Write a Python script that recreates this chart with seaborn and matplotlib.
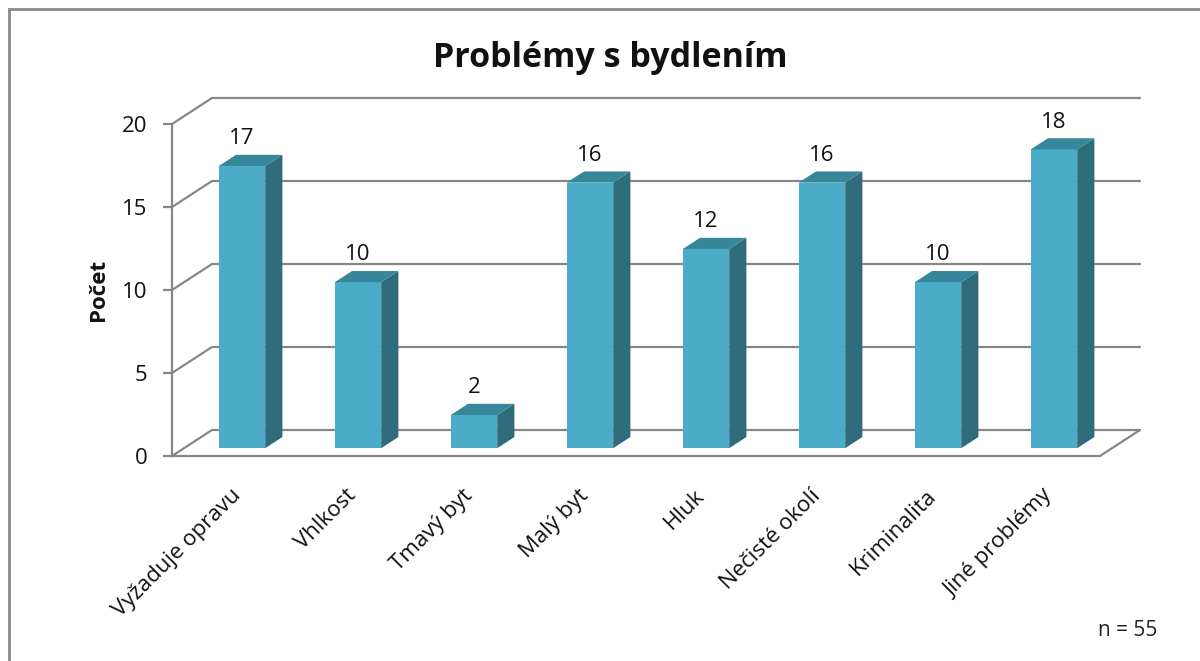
import matplotlib
matplotlib.use("Agg")
import matplotlib.pyplot as plt
import matplotlib.transforms as mtransforms
from matplotlib.patches import Polygon, Rectangle
import seaborn as sns
import pandas as pd

# ---- data ----
categories = ["Vyžaduje opravu", "Vhlkost", "Tmavý byt", "Malý byt", "Hluk",
              "Nečisté okolí", "Kriminalita", "Jiné problémy"]
values = [17, 10, 2, 16, 12, 16, 10, 18]
y_ticks = [0, 5, 10, 15, 20]
title = "Problémy s bydlením"
y_label = "Počet"
note = "n = 55"

df = pd.DataFrame({"kategorie": categories, "pocet": values})

# ---- style ----
sns.set_style("white")
plt.rcParams["font.family"] = ["Open Sans", "DejaVu Sans"]

FRONT = "#4AACC6"
SIDE = "#2F6B7B"
TOP = "#36879A"
GRID = "#878787"
W, H = 1200, 661

fig = plt.figure(figsize=(12, 6.61), dpi=100)
ax = fig.add_axes([172 / W, (H - 456) / H, (1100 - 172) / W, (456 - 124) / H])
ax.set_xlim(-0.5, 7.5)
ax.set_ylim(0, 20)

# depth vector in data units (40 px right, 26 px up)
DX, DY = 40 / 116, 26 / 16.6
T0, TD = 0.3, 0.43  # bar front depth, bar depth

sns.barplot(data=df, x="kategorie", y="pocet", color=FRONT, width=0.4,
            saturation=1, ax=ax, zorder=3)

shift = mtransforms.Affine2D().translate(T0 * DX, T0 * DY) + ax.transData

# back walls / gridlines
for v in y_ticks:
    ax.plot([-0.5, -0.5 + DX, 7.5 + DX], [v, v + DY, v + DY], color=GRID,
            lw=1.6, clip_on=False, zorder=1, solid_joinstyle="miter")
ax.plot([7.5, 7.5 + DX], [0, DY], color=GRID, lw=1.6, clip_on=False, zorder=1)

for p in ax.patches[:]:
    x0 = p.get_x()
    w = p.get_width()
    h = p.get_height()
    x1 = x0 + w
    p.set_transform(shift)
    p.set_edgecolor("none")
    p.set_clip_on(False)
    side = Polygon([(x1, 0), (x1 + TD * DX, TD * DY), (x1 + TD * DX, h + TD * DY), (x1, h)],
                   closed=True, facecolor=SIDE, edgecolor="none", transform=shift,
                   clip_on=False, zorder=3)
    top = Polygon([(x0, h), (x1, h), (x1 + TD * DX, h + TD * DY), (x0 + TD * DX, h + TD * DY)],
                  closed=True, facecolor=TOP, edgecolor="none", transform=shift,
                  clip_on=False, zorder=3)
    ax.add_patch(side)
    ax.add_patch(top)
    ax.annotate(f"{int(h)}", xy=(x0 + w / 2 + T0 * DX, h + (T0 + TD) * DY),
                xytext=(0, 4), textcoords="offset points", ha="center", va="bottom",
                fontsize=16, color="#111111", annotation_clip=False)

# axes styling
for s in ["top", "right"]:
    ax.spines[s].set_visible(False)
for s in ["left", "bottom"]:
    ax.spines[s].set_color(GRID)
    ax.spines[s].set_linewidth(1.6)
    ax.spines[s].set_zorder(2)

ax.set_yticks(y_ticks)
ax.tick_params(axis="y", length=6.5, width=1.6, color=GRID, pad=11, labelsize=16,
               labelcolor="#111111", left=True)
ax.set_xticks(range(len(categories)))
ax.set_xticklabels(categories, rotation=45, ha="right", rotation_mode="anchor",
                   fontsize=16, color="#111111")
ax.tick_params(axis="x", length=0, pad=21)
ax.set_xlabel("")
ax.set_ylabel(y_label, fontsize=16, fontweight="bold", color="#111111")
ax.yaxis.label.set_va("center")
ax.yaxis.set_label_coords((98 - 172) / 928, 0.5)
ax.set_facecolor("none")

fig.text(610 / W, 1 - 58 / H, title, ha="center", va="center", fontsize=24.5,
         fontweight="bold", color="#111111")
fig.text(1098 / W, 1 - 631 / H, note, ha="left", va="center", fontsize=15,
         color="#222222")

fig.patches.append(Rectangle((9 / W, -0.1), 1.5, 1 - 9 / H + 0.1, transform=fig.transFigure,
                             fill=False, edgecolor="#8a8a8a", lw=2, figure=fig))

fig.savefig("out.png", dpi=100)
